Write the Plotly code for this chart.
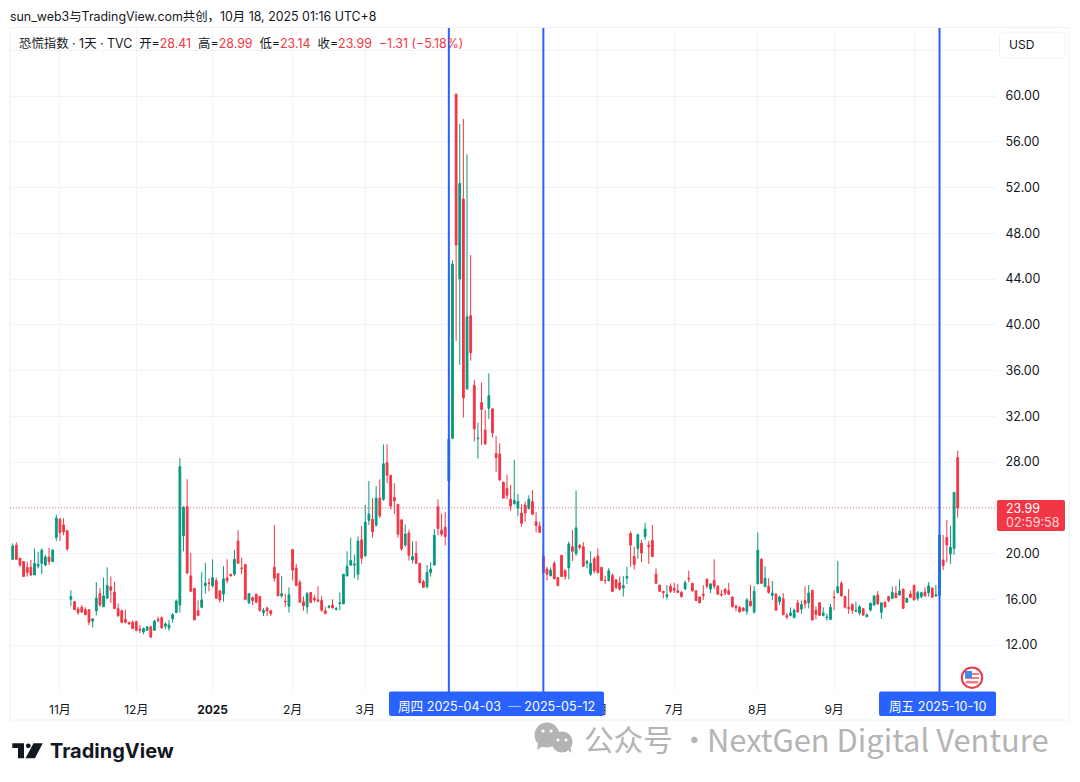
import plotly.graph_objects as go

open_ = [
    19.5,20.73,19.6,19.3,18.8,18.8,18.13,18.9,19.15,19.0,
    19.7,19.3,21.4,23.0,22.5,22.0,16.0,15.8,15.15,15.3,
    15.1,15.1,14.1,15.0,16.5,15.35,16.1,17.1,16.65,15.2,
    15.0,14.25,14.0,14.0,14.05,13.4,13.15,13.3,13.6,13.3,
    14.25,14.4,13.65,13.5,14.3,14.85,15.5,21.55,24.1,18.05,
    16.95,15.0,15.3,17.2,17.45,17.2,17.65,16.75,16.46,17.9,
    18.2,18.2,21.1,18.75,19.05,15.7,16.15,16.45,16.25,14.85,
    15.25,15.0,18.8,18.25,16.3,15.85,15.4,20.35,18.75,17.5,
    15.8,15.35,16.6,16.1,15.95,15.9,15.0,15.3,15.5,15.1,
    15.62,15.6,18.05,19.0,19.0,18.2,21.2,19.8,22.9,23.0,
    22.5,24.85,24.75,27.95,26.85,24.9,24.3,22.95,20.75,21.8,
    19.45,20.0,19.15,17.55,17.1,18.35,19.0,24.1,22.05,22.3,
    26.35,30.07,60.17,44.0,51.0,34.4,40.8,34.7,30.05,33.2,
    30.8,32.7,32.65,28.75,28.7,26.25,25.7,24.75,24.35,23.95,
    23.55,24.25,23.95,24.55,22.8,22.4,19.8,18.65,18.05,19.15,
    17.9,19.85,18.5,18.75,20.6,20.0,20.7,20.6,19.15,18.2,
    19.55,19.8,18.8,17.65,17.65,18.1,17.7,17.45,17.0,17.85,
    21.75,19.75,20.45,20.9,21.5,20.75,21.15,18.2,17.25,16.7,
    16.25,17.15,16.95,16.75,16.6,16.9,17.85,17.4,16.75,16.2,
    16.45,17.75,16.9,17.65,17.15,16.45,16.9,16.75,16.2,15.4,
    15.3,15.25,14.95,15.85,14.9,17.35,19.5,17.1,17.15,16.35,
    16.45,15.8,16.05,14.6,14.6,14.4,15.7,15.15,15.9,15.7,
    16.8,15.05,15.7,14.6,14.4,14.25,16.2,16.6,17.4,16.25,
    15.3,15.55,14.95,14.8,15.19,14.5,15.07,15.5,16.38,14.87,
    15.74,16.24,16.09,16.53,16.38,16.9,15.74,16.47,17.23,16.09,
    16.24,16.64,16.58,17.0,16.29,16.32,19.44,21.42,19.97,20.46,
    28.41,
]
high = [
    20.9,21.0,19.6,19.3,19.3,19.45,20.45,20.15,20.45,19.9,
    20.5,20.4,23.4,23.1,23.1,22.1,16.8,15.8,15.35,15.5,
    15.3,15.1,14.3,17.5,17.0,17.9,18.8,18.0,17.55,15.65,
    15.1,15.1,14.0,14.15,14.15,13.75,13.55,13.65,13.7,14.2,
    14.5,14.5,14.0,14.2,14.8,16.0,28.35,24.15,26.5,20.05,
    17.0,15.9,18.4,19.2,17.85,19.5,17.9,16.8,18.9,19.5,
    18.2,20.3,22.05,19.65,19.05,16.5,16.25,16.5,16.25,15.25,
    15.35,15.1,22.5,18.25,18.05,16.5,17.05,20.35,19.1,17.7,
    16.25,16.65,16.6,16.4,17.15,16.3,15.35,15.5,16.0,15.35,
    16.6,18.2,20.2,21.4,19.9,21.5,22.4,24.25,26.35,24.85,
    25.9,26.5,29.55,29.55,26.85,26.15,24.3,22.95,22.55,22.1,
    21.1,21.1,19.15,17.7,19.0,19.25,22.15,24.75,23.5,23.65,
    30.2,45.65,60.17,57.55,58.0,54.9,46.1,35.2,31.45,34.95,
    32.55,35.75,32.7,30.25,29.65,26.25,26.9,26.0,28.2,25.2,
    24.3,24.55,25.1,25.55,23.65,22.8,20.4,18.85,18.8,19.35,
    17.9,19.85,18.65,21.05,22.05,25.5,20.85,21.0,19.45,20.2,
    19.75,20.45,18.8,18.05,18.75,18.25,17.8,18.0,18.05,18.85,
    21.95,20.6,21.75,21.2,22.7,21.1,22.5,18.7,17.25,16.7,
    17.25,17.4,17.45,17.35,16.75,17.65,18.5,17.45,16.75,16.25,
    17.25,17.85,17.4,19.5,17.25,16.8,16.95,17.45,16.25,15.55,
    15.4,15.3,16.1,17.25,17.15,21.85,19.6,18.9,17.85,17.6,
    16.55,16.35,16.55,14.8,15.3,15.2,15.95,15.9,17.15,17.25,
    16.8,15.4,15.7,15.3,14.75,15.6,16.8,19.35,17.6,16.3,
    16.9,15.65,15.8,15.5,15.19,14.78,15.74,16.38,16.73,15.7,
    15.86,16.29,17.11,17.17,17.75,16.9,16.15,16.76,17.28,16.76,
    16.67,17.05,17.52,17.0,17.26,22.5,21.63,22.94,22.41,25.41,
    28.99,
]
low = [
    19.44,19.45,18.86,18.0,18.0,18.05,18.13,18.7,18.2,18.9,
    19.0,19.25,21.1,21.1,21.6,20.25,15.4,15.1,14.65,14.8,
    14.65,13.75,13.55,14.6,15.35,15.35,16.1,15.7,15.2,14.5,
    13.9,13.9,13.8,13.4,13.2,13.05,12.95,13.25,12.65,13.25,
    14.0,13.45,13.4,13.25,13.95,14.8,14.85,20.2,18.2,16.7,
    14.2,14.6,15.3,16.5,16.7,17.0,16.05,15.7,15.8,17.4,
    18.0,18.05,19.15,18.2,16.0,15.6,15.5,15.65,15.0,14.55,
    14.55,14.55,17.55,16.3,16.15,15.35,14.85,17.65,17.2,15.75,
    15.0,14.75,15.65,15.75,15.75,14.9,14.75,15.2,15.2,15.05,
    15.05,15.6,18.0,18.9,17.85,17.7,19.1,19.75,22.5,21.4,
    22.35,23.1,24.6,26.15,23.85,23.45,21.4,20.25,20.6,19.4,
    19.15,19.15,17.45,17.05,16.95,18.0,18.95,21.6,21.5,20.7,
    25.0,30.0,38.6,36.5,31.9,34.3,36.86,29.8,28.3,29.5,
    29.5,31.75,30.15,27.15,26.35,24.85,24.75,23.75,24.3,23.3,
    22.35,22.8,23.85,23.35,21.85,21.85,18.25,17.65,18.05,17.75,
    17.15,17.95,17.7,17.75,19.35,19.8,20.35,18.85,18.7,18.05,
    18.25,18.25,17.6,17.35,17.55,16.65,16.85,16.75,16.25,17.35,
    18.85,18.6,19.55,19.25,21.2,19.1,19.75,17.35,16.65,16.1,
    16.0,16.55,16.55,16.55,16.15,16.85,17.5,16.65,15.85,15.65,
    15.95,16.95,16.55,16.9,16.4,16.25,16.35,16.4,15.3,14.95,
    14.85,14.95,14.65,15.35,14.75,17.35,17.35,17.1,16.5,15.95,
    15.05,15.5,14.65,14.25,14.5,14.35,14.85,14.75,15.2,15.2,
    14.15,14.25,14.6,14.5,14.15,14.2,15.05,16.5,16.25,15.2,
    14.75,14.75,14.9,14.6,14.55,14.4,14.92,15.45,15.5,14.31,
    15.22,15.74,16.03,16.09,16.32,15.16,15.74,16.15,15.94,15.89,
    16.09,16.29,16.24,16.18,16.23,16.32,18.57,19.24,19.09,19.88,
    23.14,
]
close = [
    20.67,19.5,19.0,18.0,18.35,18.13,19.15,19.05,20.3,19.7,
    19.3,20.3,23.1,21.85,21.9,20.4,16.25,15.1,14.85,14.9,
    14.65,14.0,14.3,16.1,15.5,16.3,17.2,16.8,15.2,14.55,
    14.0,14.0,13.85,13.45,13.3,13.3,13.45,13.6,12.7,14.1,
    14.15,13.5,13.85,13.75,14.65,15.85,27.6,24.05,18.3,16.7,
    14.2,14.6,15.95,17.4,17.4,17.9,16.1,15.95,17.8,17.63,
    18.05,19.5,19.15,18.7,16.0,16.5,15.9,15.75,15.0,15.05,
    15.0,14.75,17.85,16.3,16.5,15.8,16.4,18.55,17.2,15.75,
    15.45,16.5,15.75,15.95,15.85,15.05,14.75,15.4,15.25,15.2,
    15.68,18.2,18.9,19.4,19.1,21.1,19.6,22.75,23.45,21.9,
    24.85,23.3,27.85,26.85,24.15,24.6,21.7,20.4,21.7,19.85,
    19.75,19.15,17.45,17.05,18.35,18.65,21.6,22.2,21.7,21.5,
    30.0,45.3,46.97,52.36,33.6,40.7,37.56,30.9,30.1,32.6,
    29.6,33.8,30.55,28.4,26.45,24.85,25.1,24.15,24.65,24.55,
    22.65,23.55,24.75,23.45,22.45,21.85,18.35,18.2,18.55,17.8,
    17.2,18.0,18.0,20.85,20.2,22.25,20.55,18.9,19.3,19.15,
    18.5,18.35,17.65,17.63,18.5,16.7,17.05,16.9,17.2,18.0,
    20.75,19.05,21.65,20.05,22.15,20.6,19.75,17.4,16.7,16.6,
    16.4,16.7,16.8,16.6,16.25,17.45,17.78,16.75,15.9,15.7,
    16.35,17.15,17.35,17.15,16.45,16.4,16.55,16.45,15.35,15.3,
    14.9,15.0,15.95,15.45,16.7,20.3,17.4,17.85,16.6,16.55,
    15.05,16.2,14.65,14.45,14.8,15.05,14.9,15.55,15.6,16.55,
    14.2,14.7,14.6,14.8,14.45,15.3,16.15,17.1,16.3,15.3,
    15.2,15.05,15.05,15.35,14.63,14.65,15.65,16.3,15.62,15.7,
    15.36,15.89,16.61,16.15,16.73,15.22,16.09,16.18,15.94,16.58,
    16.58,16.29,17.17,16.18,16.38,21.63,18.95,20.75,20.55,25.33,
    23.99,
]

month_ticks = [13, 34, 55, 77, 97, 118, 139, 161, 182, 205, 226, 248]
month_labels = ["11月", "12月", "<b>2025</b>", "2月", "3月", "", "", "6月", "7月", "8月", "9月", ""]
price_ticks = [12, 16, 20, 24, 28, 32, 36, 40, 44, 48, 52, 56, 60, 64]
price_labels = ["12.00", "16.00", "20.00", "", "28.00", "32.00", "36.00", "40.00", "44.00",
                "48.00", "52.00", "56.00", "60.00", ""]
event_bars = [120, 146, 255]

UP, DOWN, BLUE, INK, GRID, FRAME = "#089981", "#F23645", "#2962FF", "#131722", "#F2F3F6", "#EEF0F4"
FONT = "Inter, 'Noto Sans CJK SC', sans-serif"
W, H = 1080, 782
L, R, T, B = 10, 996, 28, 692
n = len(close)
step = (957.7 - 12.7) / (n - 1)


def px(x):
    return (x - L) / (R - L)


def py(y):
    return 1 - (y - T) / (B - T)


def rect(x0, y0, x1, y1, fill="rgba(0,0,0,0)", line=None, lw=1):
    return dict(type="rect", xref="paper", yref="paper", x0=px(x0), y0=py(y0), x1=px(x1), y1=py(y1),
                fillcolor=fill, line=dict(color=line or "rgba(0,0,0,0)", width=lw if line else 0), layer="above")


def rounded(x0, y0, x1, y1, r, fill, line=None):
    p = lambda x, y: f"{px(x)},{py(y)}"
    d = (f"M{p(x0 + r, y0)} L{p(x1 - r, y0)} Q{p(x1, y0)} {p(x1, y0 + r)} L{p(x1, y1 - r)} Q{p(x1, y1)} {p(x1 - r, y1)} "
         f"L{p(x0 + r, y1)} Q{p(x0, y1)} {p(x0, y1 - r)} L{p(x0, y0 + r)} Q{p(x0, y0)} {p(x0 + r, y0)} Z")
    return dict(type="path", xref="paper", yref="paper", path=d, fillcolor=fill,
                line=dict(color=line or "rgba(0,0,0,0)", width=1 if line else 0), layer="above")


def poly(points, fill):
    d = "M" + " L".join(f"{px(x)},{py(y)}" for x, y in points) + " Z"
    return dict(type="path", xref="paper", yref="paper", path=d, fillcolor=fill, line=dict(width=0), layer="above")


def circle(cx, cy, r, fill, line=None, lw=0):
    return dict(type="circle", xref="paper", yref="paper", x0=px(cx - r), x1=px(cx + r), y0=py(cy + r), y1=py(cy - r),
                fillcolor=fill, line=dict(color=line or "rgba(0,0,0,0)", width=lw), layer="above")


def text(x, y, s, size=12, color=INK, font=FONT):
    return dict(xref="paper", yref="paper", x=px(x - 2), y=py(y), text=s, showarrow=False, xanchor="left", yanchor="middle",
                align="left", font=dict(size=size, color=color, family=font))


fig = go.Figure(go.Candlestick(
    x=list(range(n)), open=open_, high=high, low=low, close=close,
    increasing=dict(line=dict(color=UP, width=1), fillcolor=UP),
    decreasing=dict(line=dict(color=DOWN, width=1), fillcolor=DOWN),
    whiskerwidth=0, hoverinfo="skip", showlegend=False,
))

shapes = [
    rect(10, 27.5, 1069, 720, line=FRAME),
    dict(type="line", xref="paper", yref="y", x0=0, x1=1, y0=close[-1], y1=close[-1], opacity=0.65,
         line=dict(color=DOWN, width=1, dash="1px,2px"), layer="above"),
    rounded(999.5, 32, 1065, 58, 5, "white", FRAME),
    rounded(997, 500, 1065, 531, 2, DOWN),
    rounded(389, 691.5, 604, 716, 2, BLUE),
    rounded(879, 691.5, 996, 716, 2, BLUE),
]
for b in event_bars:
    shapes.append(dict(type="line", xref="x", yref="paper", x0=b, x1=b, y0=py(B), y1=py(T),
                       line=dict(color=BLUE, width=2), layer="above"))

# US flag marker
shapes += [
    circle(972, 677.7, 10.2, "white", "#F23645", 2),
    rect(965, 673, 979, 675, fill="#F77C80"),
    rect(965, 677, 979, 679, fill="#F77C80"),
    rect(966, 681, 978, 683.5, fill="#F77C80"),
    rect(965, 671, 972, 678, fill="#3D8BE8"),
]
# TradingView logo
shapes += [
    poly([(12.3, 743.3), (24, 743.3), (24, 758.3), (18, 758.3), (18, 748), (12.3, 748)], "#131722"),
    circle(28.3, 745.8, 2.4, "#131722"),
    poly([(33.5, 743.3), (42.7, 743.3), (35, 758.3), (25.5, 758.3)], "#131722"),
]
# WeChat mark
shapes += [
    circle(547, 735, 12.5, "#B4B4B4"),
    poly([(538, 743), (543, 746), (537, 750)], "#B4B4B4"),
    circle(562, 742, 10.5, "#B4B4B4"),
    poly([(567, 749), (571, 748), (571, 753)], "#B4B4B4"),
    circle(543, 731, 1.6, "white"), circle(551, 731, 1.6, "white"),
    circle(558, 740, 1.4, "white"), circle(566, 740, 1.4, "white"),
]

red = f"color:{DOWN}"
legend = (f"恐慌指数 · 1天 · TVC  开=<span style='{red}'>28.41</span>  高=<span style='{red}'>28.99</span>  "
          f"低=<span style='{red}'>23.14</span>  收=<span style='{red}'>23.99</span>  "
          f"<span style='{red}'>−1.31 (−5.18%)</span>")

annotations = [
    text(10, 16.5, "sun_web3与TradingView.com共创，10月 18, 2025 01:16 UTC+8", 12.4),
    text(19, 44, legend, 12.4),
    text(1009, 45, "USD", 12),
    text(1006, 508, "23.99", 12.5, "white"),
    text(1006, 522.5, "02:59:58", 12.5, "#FFD9DC"),
    text(398, 706, "周四 2025-04-03  ─ 2025-05-12", 12.6, "white"),
    text(889, 706, "周五 2025-10-10", 12.6, "white"),
    text(50, 751, "<b>TradingView</b>", 20, "#131722"),
    text(584, 738.5, "公众号 ·", 29.6, "#B4B4B4", font="'Noto Sans CJK SC', sans-serif"),
    text(707, 738.5, "NextGen Digital Venture", 30.9, "#B4B4B4", font="'Noto Sans CJK SC', sans-serif"),
]

fig.update_layout(
    width=W, height=H, autosize=False,
    margin=dict(l=L, r=W - R, t=T, b=H - B, pad=0),
    paper_bgcolor="white", plot_bgcolor="white",
    font=dict(family=FONT, size=12, color=INK),
    showlegend=False,
    shapes=shapes, annotations=annotations,
    hovermode=False,
    xaxis=dict(
        range=[(L - 12.7) / step, (R - 12.7) / step], rangeslider=dict(visible=False),
        tickmode="array", tickvals=month_ticks, ticktext=month_labels,
        showgrid=True, gridcolor=GRID, gridwidth=1, zeroline=False, showline=False,
        ticks="outside", ticklen=7, tickcolor="white", tickfont=dict(size=12, color=INK),
    ),
    yaxis=dict(
        side="right", range=[60 - (B - 96) / 11.44, 60 + (96 - T) / 11.44],
        tickmode="array", tickvals=price_ticks, ticktext=price_labels,
        showgrid=True, gridcolor=GRID, gridwidth=1, zeroline=False, showline=False,
        ticks="outside", ticklen=6, tickcolor="white", tickfont=dict(size=12.5, color=INK),
    ),
)

fig.write_html("out.html", config=dict(displayModeBar=False),
               post_script="document.body.style.margin='0';document.body.style.overflow='hidden';")
